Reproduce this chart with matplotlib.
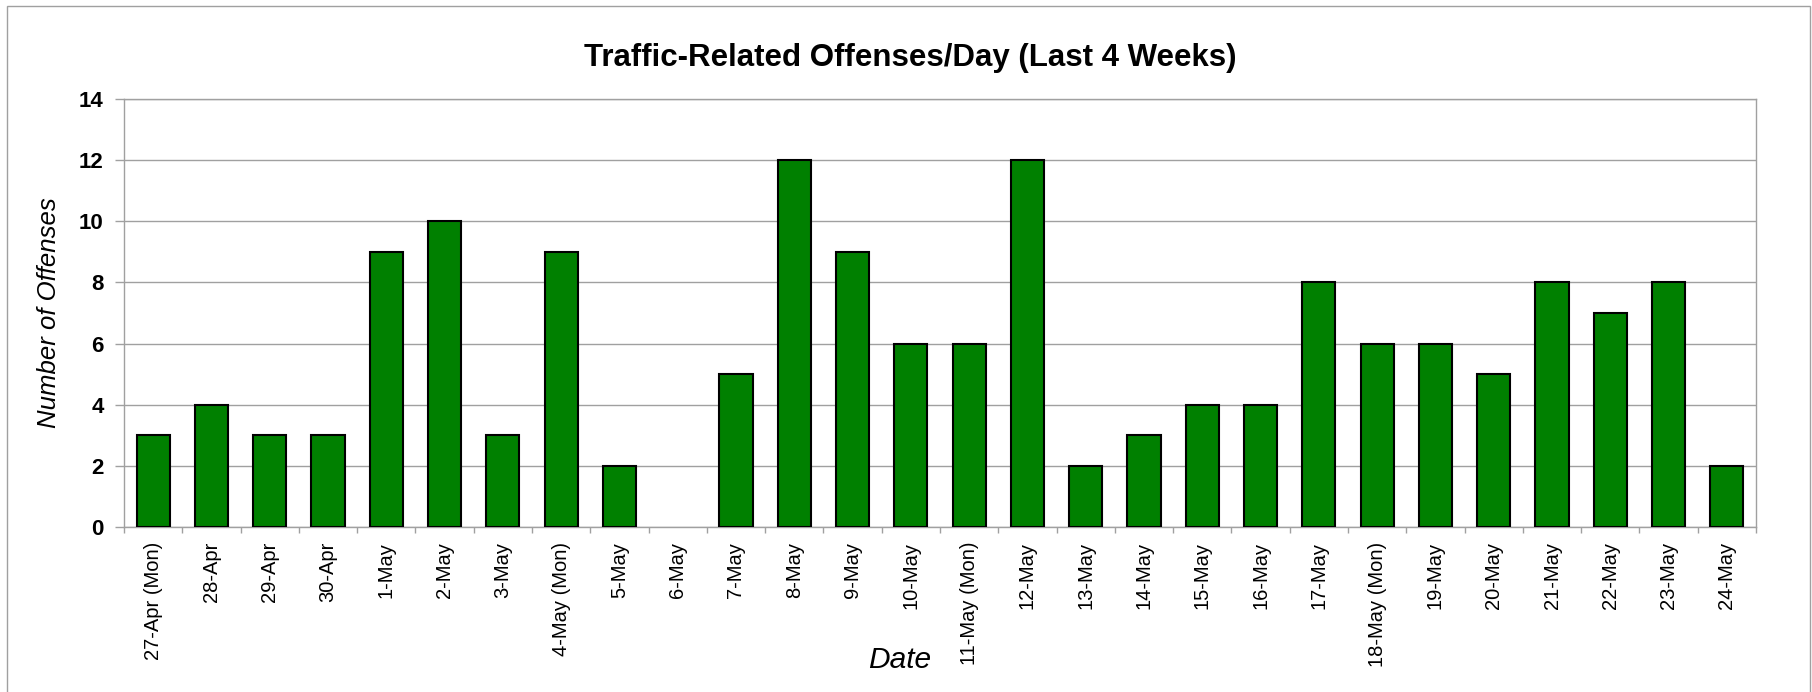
import matplotlib
matplotlib.use("Agg")
import matplotlib.pyplot as plt
from matplotlib.patches import Rectangle
import numpy as np

dates = ["27-Apr (Mon)", "28-Apr", "29-Apr", "30-Apr", "1-May", "2-May", "3-May",
         "4-May (Mon)", "5-May", "6-May", "7-May", "8-May", "9-May", "10-May",
         "11-May (Mon)", "12-May", "13-May", "14-May", "15-May", "16-May", "17-May",
         "18-May (Mon)", "19-May", "20-May", "21-May", "22-May", "23-May", "24-May"]
offenses = [3, 4, 3, 3, 9, 10, 3, 9, 2, 0, 5, 12, 9, 6, 6, 12, 2, 3, 4, 4, 8,
            6, 6, 5, 8, 7, 8, 2]
y_ticks = [0, 2, 4, 6, 8, 10, 12, 14]

plt.rcParams['font.family'] = ['Liberation Sans', 'DejaVu Sans']

W, H = 1812, 692
fig = plt.figure(figsize=(W / 100, H / 100), dpi=100)
ax = fig.add_axes([124 / W, 1 - 527 / H, (1756 - 124) / W, (527 - 99) / H])

x = np.arange(len(dates))
lws = [1.5 if v > 0 else 0 for v in offenses]
ax.bar(x, offenses, width=0.57, color='#008000', edgecolor='black', linewidth=lws, zorder=3)

ax.set_xlim(-0.5, len(dates) - 0.5)
ax.set_ylim(0, 14)
ax.set_yticks(y_ticks)
ax.set_yticklabels([str(v) for v in y_ticks], fontsize=16, fontweight='bold')
ax.yaxis.grid(True, color='#A0A0A0', linewidth=1.0, zorder=0)
ax.set_axisbelow(True)

ax.set_xticks(x)
ax.set_xticklabels(dates, rotation=90, fontsize=14.5)
ax.set_xticks(np.arange(len(dates) + 1) - 0.5, minor=True)
ax.tick_params(axis='x', which='major', length=0, pad=10.6)
ax.tick_params(axis='x', which='minor', length=4.3, color='#A0A0A0', width=1.0)
ax.tick_params(axis='y', which='major', length=6.5, color='#A0A0A0', width=1.0, pad=8.0)

for s in ax.spines.values():
    s.set_color('#A0A0A0')
    s.set_linewidth(1.0)

fig.text(910 / W, 1 - 66 / H, "Traffic-Related Offenses/Day (Last 4 Weeks)",
         ha='center', va='baseline', fontsize=22.5, fontweight='bold')
fig.text(900 / W, 1 - 668 / H, "Date", ha='center', va='baseline',
         fontsize=21.5, style='italic')
fig.text(49 / W, 1 - 313 / H, "Number of Offenses", ha='center', va='center',
         rotation=90, fontsize=18.5, style='italic')

fig.patches.append(Rectangle((7 / W, -0.01), (1810 - 7) / W, (692 - 6) / H + 0.01,
                             transform=fig.transFigure, fill=False,
                             edgecolor='#A0A0A0', linewidth=1.0))

fig.savefig("out.png", dpi=100)
